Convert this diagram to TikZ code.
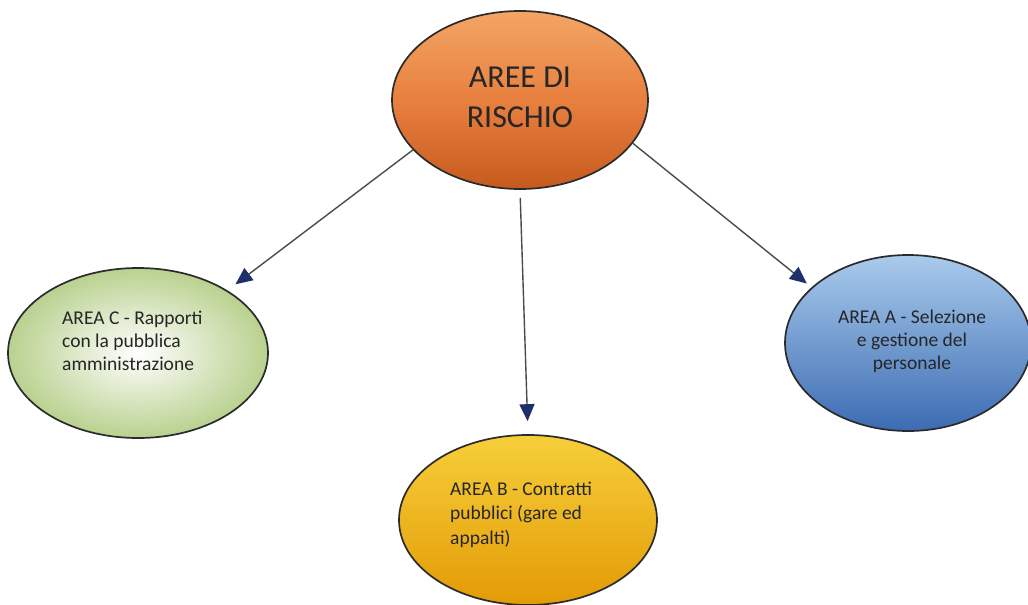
\documentclass[tikz,border=0pt]{standalone}
\usepackage{fontspec}
\setmainfont{Carlito}
\usetikzlibrary{shapes.geometric,arrows.meta}
\definecolor{navy}{HTML}{1F2F6A}
\definecolor{edge}{HTML}{2B2B2B}
\definecolor{orTop}{HTML}{F3A564}
\definecolor{orMid}{HTML}{E8803F}
\definecolor{orBot}{HTML}{C65A1E}
\definecolor{grEdge}{HTML}{B9D18F}
\definecolor{blTop}{HTML}{A9CBEC}
\definecolor{blMid}{HTML}{6D9BD6}
\definecolor{blBot}{HTML}{3C6BB2}
\definecolor{yeTop}{HTML}{F6CF3A}
\definecolor{yeMid}{HTML}{FBBF10}
\definecolor{yeBot}{HTML}{E39B06}
\tikzset{
  bubble/.style={ellipse, draw=edge, line width=1.7pt, inner sep=0pt},
  small/.style={font=\fontsize{19.5}{22.8}\selectfont, text=black!85, inner sep=0pt},
  arr/.style={draw=edge!85, line width=1.4pt, -{Triangle[length=17pt,width=15pt,fill=navy,color=navy]}}
}
\begin{document}
\begin{tikzpicture}[x=1pt,y=-1pt]
\useasboundingbox (0,0) rectangle (1028,605);
\clip (0,0) rectangle (1028,605);
% top
\node[bubble, minimum width=256pt, minimum height=178pt, top color=orTop, bottom color=orBot, middle color=orMid] (top) at (520,100) {};
\node[font=\fontsize{32}{40}\selectfont, text=black!85, align=center, inner sep=0pt, anchor=base] (toptext) at (520,127) {AREE DI\\RISCHIO};
% C
\node[bubble, minimum width=260pt, minimum height=170pt, inner color=white, outer color=grEdge] (c) at (138,353) {};
\node[small, align=left, anchor=base west] (ctext) at (62,370) {AREA C - Rapporti\\con la pubblica\\amministrazione};
% A
\node[bubble, minimum width=246pt, minimum height=176pt, top color=blTop, middle color=blMid, bottom color=blBot] (a) at (908,343) {};
\node[small, align=center, anchor=base] (atext) at (912,369) {AREA A - Selezione\\e gestione del\\personale};
% B
\node[bubble, minimum width=258pt, minimum height=170pt, top color=yeTop, middle color=yeMid, bottom color=yeBot] (b) at (528,520) {};
\node[small, font=\fontsize{19.5}{24.5}\selectfont, align=left, anchor=base west] (btext) at (450,544) {AREA B - Contratti\\pubblici (gare ed\\appalti)};
% arrows
\draw[arr, shorten >=10pt] (top.205) -- (c.35);
\draw[arr, shorten <=8pt, shorten >=13pt] (top.south) -- (b.north);
\draw[arr, shorten >=6pt] (top.-21) -- (a.150);
\end{tikzpicture}
\end{document}
